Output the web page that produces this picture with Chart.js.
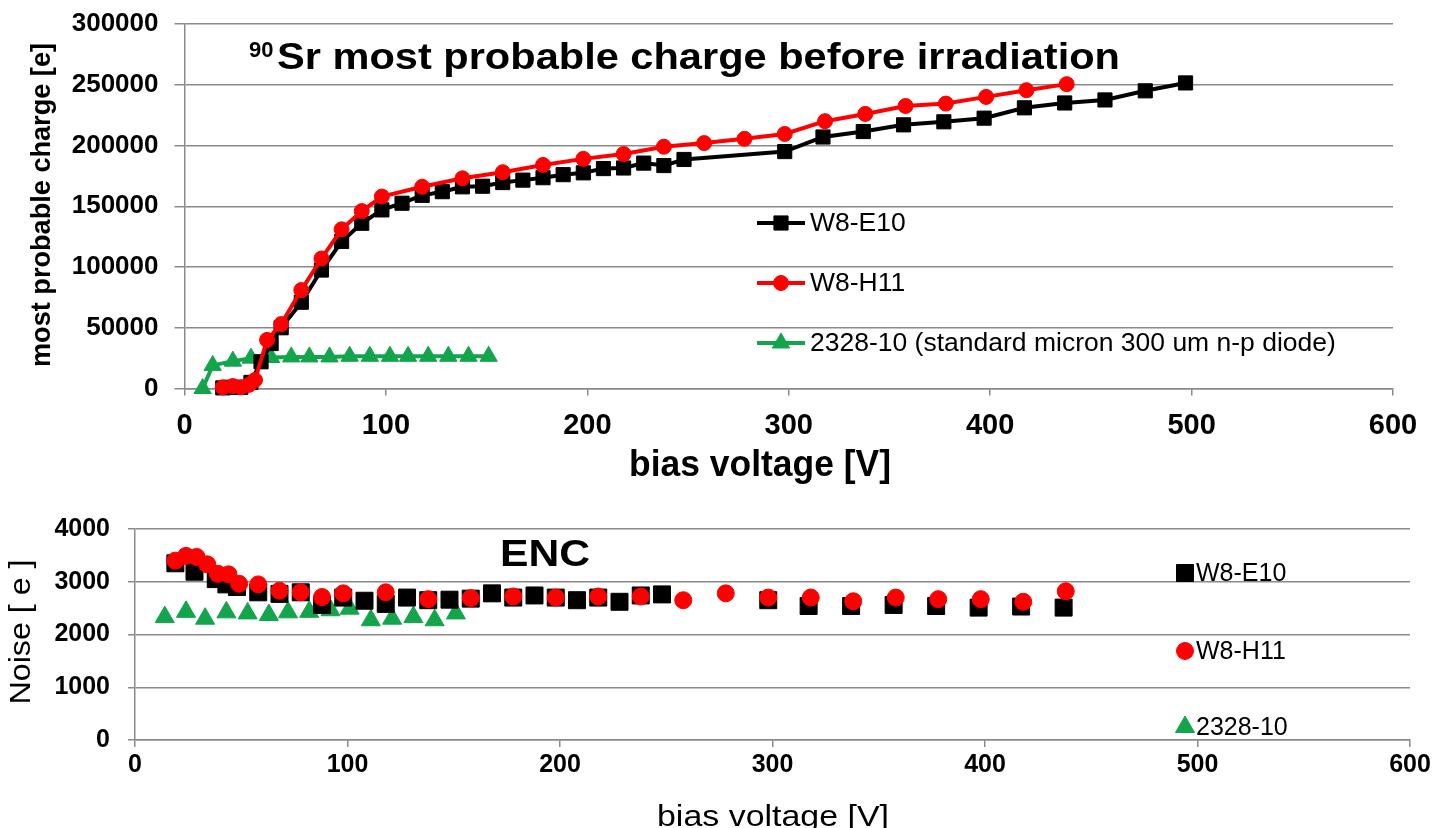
<!DOCTYPE html>
<html>
<head>
<meta charset="utf-8">
<title>90Sr most probable charge and noise vs bias voltage</title>
<script src="https://cdn.jsdelivr.net/npm/chart.js@4.4.1/dist/chart.umd.min.js"></script>
<style>
  html, body { margin: 0; padding: 0; background: #fff; }
  canvas { position: absolute; left: 0; }
  #chargeChart { top: 0; }
  #noiseChart { top: 492px; }
</style>
</head>
<body>
<canvas id="chargeChart" width="1436" height="492"></canvas>
<canvas id="noiseChart" width="1436" height="336"></canvas>
<script>
// axis tick values
const voltTicks = [0, 100, 200, 300, 400, 500, 600];
const chargeTicks = [0, 50000, 100000, 150000, 200000, 250000, 300000];
const noiseTicks = [0, 1000, 2000, 3000, 4000];

// most probable charge [e] vs bias voltage [V]
const e10ChargeVolts = [19, 23, 28, 33, 38, 43, 48, 58, 68, 78, 88, 98, 108, 118, 128, 138, 148, 158, 168, 178, 188, 198, 208, 218, 228, 238, 248, 298, 317, 337, 357, 377, 397, 417, 437, 457, 477, 497];
const e10Charge = [500, 1000, 1000, 5000, 22000, 37000, 50000, 71000, 97500, 121000, 136000, 147000, 152500, 159000, 162000, 166000, 166500, 169500, 171500, 173500, 176000, 177500, 181000, 181500, 185500, 183500, 188500, 195000, 207000, 211500, 217000, 219500, 222500, 231000, 235000, 237500, 245000, 251500];

const h11ChargeVolts = [19, 24, 28, 32, 35, 41, 48, 58, 68, 78, 88, 98, 118, 138, 158, 178, 198, 218, 238, 258, 278, 298, 318, 338, 358, 378, 398, 418, 438];
const h11Charge = [1000, 2000, 1000, 3000, 7000, 40000, 53000, 81000, 107000, 131000, 146000, 158000, 166000, 173000, 178000, 184000, 189000, 193000, 199000, 202000, 205500, 209500, 220000, 226000, 232500, 234500, 240000, 245500, 250500];

const stdChargeVolts = [9, 14, 24, 33, 43, 53, 62, 72, 82, 92, 102, 111, 121, 131, 141, 151];
const stdCharge = [0, 19000, 22500, 25000, 25500, 26000, 26000, 26000, 26500, 26500, 26500, 26500, 26500, 26500, 26500, 26500];

// noise (ENC) [e] vs bias voltage [V]
const e10NoiseVolts = [19, 28, 38, 43, 48, 58, 68, 78, 88, 98, 108, 118, 128, 138, 148, 158, 168, 178, 188, 198, 208, 218, 228, 238, 248, 298, 317, 337, 357, 377, 397, 417, 437];
const e10Noise = [3350, 3190, 3050, 2950, 2900, 2800, 2770, 2800, 2560, 2700, 2640, 2580, 2700, 2650, 2660, 2680, 2780, 2700, 2740, 2700, 2650, 2700, 2620, 2740, 2760, 2650, 2540, 2540, 2560, 2540, 2510, 2530, 2510];

const h11NoiseVolts = [19, 24, 29, 34, 39, 44, 49, 58, 68, 78, 88, 98, 118, 138, 158, 178, 198, 218, 238, 258, 278, 298, 318, 338, 358, 378, 398, 418, 438];
const h11Noise = [3400, 3490, 3470, 3330, 3150, 3140, 2960, 2950, 2830, 2800, 2710, 2780, 2800, 2670, 2690, 2720, 2700, 2720, 2720, 2650, 2780, 2700, 2700, 2630, 2700, 2670, 2670, 2620, 2820];

const stdNoiseVolts = [14, 24, 33, 43, 53, 63, 72, 82, 92, 101, 111, 121, 131, 141, 151];
const stdNoise = [2330, 2430, 2300, 2420, 2400, 2370, 2420, 2430, 2460, 2490, 2270, 2300, 2330, 2270, 2400];

const GRID = '#8a8a8a';
const BLACK = '#000000';
const RED = '#ff0000';
const GREEN = '#12a54c';
const SANS = '"Liberation Sans", Arial, sans-serif';

function pts(xs, ys) {
    return xs.map((x, i) => ({ x: x, y: ys[i] }));
}

function fixedTicks(list) {
    return function (scale) {
        scale.ticks = list.map(v => ({ value: v }));
    };
}

// fixed axis box, and no extra room reserved for overhanging tick labels
function boxSize(key, size) {
    return function (scale) {
        scale[key] = size;
        scale.paddingTop = 0;
        scale.paddingBottom = 0;
        scale.paddingLeft = 0;
        scale.paddingRight = 0;
    };
}

// plain numbers, no thousands separator
function plain(v) {
    return String(v);
}

// text with an optional target width (horizontal stretch) and rotation
function drawText(ctx, str, x, y, font, width, opts) {
    opts = opts || {};
    ctx.save();
    ctx.font = font;
    ctx.fillStyle = '#000';
    ctx.textAlign = opts.align || 'left';
    ctx.textBaseline = opts.baseline || 'alphabetic';
    ctx.translate(x, y);
    if (opts.rotate) ctx.rotate(opts.rotate);
    if (width) ctx.scale(width / ctx.measureText(str).width, 1);
    ctx.fillText(str, 0, 0);
    ctx.restore();
}

function drawMarker(ctx, ds, radius, x, y) {
    ctx.save();
    ctx.fillStyle = ds.backgroundColor;
    ctx.strokeStyle = ds.borderColor;
    ctx.lineWidth = 1;
    Chart.helpers.drawPoint(ctx, { pointStyle: ds.pointStyle, rotation: 0, radius: radius, borderWidth: 1 }, x, y);
    ctx.restore();
}

const chargeDecor = {
    id: 'chargeDecor',
    afterDraw(chart) {
        const ctx = chart.ctx;
        drawText(ctx, '90', 249, 57, 'bold 22px ' + SANS);
        drawText(ctx, 'Sr most probable charge before irradiation', 277, 69, 'bold 36px ' + SANS, 843);
        drawText(ctx, 'bias voltage [V]', 760, 476, 'bold 36px ' + SANS, 262, { align: 'center' });
        drawText(ctx, 'most probable charge [e]', 43, 205, 'bold 27px ' + SANS, 324,
            { rotate: -Math.PI / 2, align: 'center', baseline: 'middle' });

        // legend inside the plot: line + marker, then the label
        const rows = [223, 283, 343];
        const order = [1, 0, 2];
        order.forEach((di, r) => {
            const ds = chart.data.datasets[di];
            const y = rows[r];
            ctx.save();
            ctx.strokeStyle = ds.borderColor;
            ctx.lineWidth = 4;
            ctx.beginPath();
            ctx.moveTo(757, y);
            ctx.lineTo(805, y);
            ctx.stroke();
            ctx.restore();
            drawMarker(ctx, ds, ds.pointRadius, 781, y);
            ctx.save();
            ctx.font = '25px ' + SANS;
            const w = ctx.measureText(ds.label).width * 1.06;
            ctx.restore();
            drawText(ctx, ds.label, 810, y + 1, '25px ' + SANS, w, { baseline: 'middle' });
        });
    }
};

const noiseDecor = {
    id: 'noiseDecor',
    afterDraw(chart) {
        const ctx = chart.ctx;
        drawText(ctx, 'ENC', 500, 74, 'bold 36px ' + SANS, 90);
        drawText(ctx, 'bias voltage [V]', 773, 334, '30px ' + SANS, 232, { align: 'center' });
        drawText(ctx, 'Noise [ e ]', 22, 140, '30px ' + SANS, 145,
            { rotate: -Math.PI / 2, align: 'center', baseline: 'middle' });

        const rows = [81, 159, 235];
        const order = [1, 0, 2];
        order.forEach((di, r) => {
            const ds = chart.data.datasets[di];
            drawMarker(ctx, ds, ds.pointRadius, 1185, rows[r]);
            drawText(ctx, ds.label, 1196, rows[r] + 1, '25px ' + SANS, 0, { baseline: 'middle' });
        });
    }
};

function axisStyle(extra) {
    return Object.assign({
        type: 'linear',
        border: { color: GRID, width: 1.5 }
    }, extra);
}

new Chart(document.getElementById('chargeChart'), {
    type: 'scatter',
    data: {
        datasets: [{
            label: 'W8-H11',
            data: pts(h11ChargeVolts, h11Charge),
            showLine: true,
            borderColor: RED,
            backgroundColor: RED,
            borderWidth: 4,
            pointStyle: 'circle',
            pointRadius: 7.5,
            pointBorderWidth: 1,
            clip: false,
            order: 0
        }, {
            label: 'W8-E10',
            data: pts(e10ChargeVolts, e10Charge),
            showLine: true,
            borderColor: BLACK,
            backgroundColor: BLACK,
            borderWidth: 4,
            pointStyle: 'rect',
            pointRadius: 10,
            pointBorderWidth: 1,
            clip: false,
            order: 1
        }, {
            label: '2328-10 (standard micron 300 um n-p diode)',
            data: pts(stdChargeVolts, stdCharge),
            showLine: true,
            borderColor: GREEN,
            backgroundColor: GREEN,
            borderWidth: 4,
            pointStyle: 'triangle',
            pointRadius: 10,
            pointBorderWidth: 1,
            clip: false,
            order: 2
        }]
    },
    options: {
        responsive: false,
        animation: false,
        events: [],
        layout: { padding: { top: 24, right: 43, left: 0, bottom: 0 } },
        plugins: { legend: { display: false }, tooltip: { enabled: false } },
        scales: {
            x: axisStyle({
                min: 0, max: 600,
                afterBuildTicks: fixedTicks(voltTicks),
                afterFit: boxSize('height', 103.5),
                grid: { drawOnChartArea: false, color: GRID, lineWidth: 1.5, tickLength: 7 },
                ticks: { color: '#000', maxRotation: 0, autoSkip: false, padding: 13, callback: plain,
                    font: { family: SANS, size: 29, weight: 'bold' } }
            }),
            y: axisStyle({
                min: 0, max: 300000,
                afterBuildTicks: fixedTicks(chargeTicks),
                afterFit: boxSize('width', 184.5),
                grid: { color: GRID, lineWidth: 1.5, tickLength: 10 },
                ticks: { color: '#000', autoSkip: false, padding: 16, callback: plain,
                    font: { family: SANS, size: 26, weight: 'bold' } }
            })
        }
    },
    plugins: [chargeDecor]
});

new Chart(document.getElementById('noiseChart'), {
    type: 'scatter',
    data: {
        datasets: [{
            label: 'W8-H11',
            data: pts(h11NoiseVolts, h11Noise),
            borderColor: RED,
            backgroundColor: RED,
            pointStyle: 'circle',
            pointRadius: 8.5,
            pointBorderWidth: 1,
            clip: false,
            order: 0
        }, {
            label: 'W8-E10',
            data: pts(e10NoiseVolts, e10Noise),
            borderColor: BLACK,
            backgroundColor: BLACK,
            pointStyle: 'rect',
            pointRadius: 12,
            pointBorderWidth: 1,
            clip: false,
            order: 1
        }, {
            label: '2328-10',
            data: pts(stdNoiseVolts, stdNoise),
            borderColor: GREEN,
            backgroundColor: GREEN,
            pointStyle: 'triangle',
            pointRadius: 11,
            pointBorderWidth: 1,
            clip: false,
            order: 2
        }]
    },
    options: {
        responsive: false,
        animation: false,
        events: [],
        layout: { padding: { top: 37, right: 26, left: 0, bottom: 0 } },
        plugins: { legend: { display: false }, tooltip: { enabled: false } },
        scales: {
            x: axisStyle({
                min: 0, max: 600,
                afterBuildTicks: fixedTicks(voltTicks),
                afterFit: boxSize('height', 88),
                grid: { drawOnChartArea: false, color: GRID, lineWidth: 1.5, tickLength: 7 },
                ticks: { color: '#000', maxRotation: 0, autoSkip: false, padding: 3, callback: plain,
                    font: { family: SANS, size: 25, weight: 'bold' } }
            }),
            y: axisStyle({
                min: 0, max: 4000,
                afterBuildTicks: fixedTicks(noiseTicks),
                afterFit: boxSize('width', 135),
                grid: { color: GRID, lineWidth: 1.5, tickLength: 7 },
                ticks: { color: '#000', autoSkip: false, padding: 18, callback: plain,
                    font: { family: SANS, size: 25, weight: 'bold' } }
            })
        }
    },
    plugins: [noiseDecor]
});
</script>
</body>
</html>
